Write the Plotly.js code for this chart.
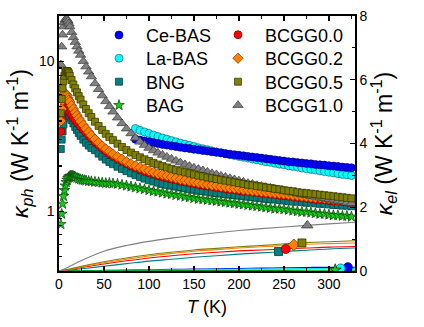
<!DOCTYPE html>
<html><head><meta charset="utf-8">
<script src="https://cdn.plot.ly/plotly-3.0.1.min.js"></script>
<style>html,body{margin:0;padding:0;background:#fff}#chart{width:424px;height:327px}</style>
</head><body><div id="chart"></div>
<script>
// ---------- data ----------
const names = ["Ce-BAS","La-BAS","BNG","BAG","BCGG0.0","BCGG0.2","BCGG0.5","BCGG1.0"];

// temperatures (K) for the BCGG / BNG phonon series
const T_low = [2,3,4,5,6,7,8,9,10,11,12,14,16,18,20,22,24,27,30,33,36,40,44,48,52,56,60,
  65,70,75,80,85,90,95,100,105,110,115,120,125,130,135,140,145,150,155,160,165,170,175,180,
  185,190,195,200,205,210,215,220,225,230,235,240,245,250,255,260,265,270,275,280,285,290,
  295,300,305,310,315,320,325];
// temperatures for BAG
const T_bag = [2,3,4,5,6,7,8,9,10,11,12,13,14,15,16,17,18,20,22,24,26,28,30,33,36,40,44,48,52,56,60,
  65,70,75,80,85,90,95,100,105,110,115,120,125,130,135,140,145,150,155,160,165,170,175,180,
  185,190,195,200,205,210,215,220,225,230,235,240,245,250,255,260,265,270,275,280,285,290,
  295,300,305,310,315,320,325];
// temperatures for Ce-BAS / La-BAS
const T_bas = [85,90,95,100,105,110,115,120,125,130,135,140,145,150,155,160,165,170,175,180,
  185,190,195,200,205,210,215,220,225,230,235,240,245,250,255,260,265,270,275,280,285,290,
  295,300,305,310,315,320,325];

// kappa_ph (W K^-1 m^-1), left log axis
const kph_CeBAS = [3.02,2.98,2.94,2.90,2.86,2.83,2.79,2.76,2.73,2.70,2.67,2.64,2.62,2.59,2.57,2.54,2.52,2.49,2.47,2.45,
  2.42,2.40,2.38,2.36,2.34,2.32,2.30,2.28,2.26,2.24,2.22,2.20,2.18,2.16,2.14,2.13,2.11,2.10,2.08,2.07,2.05,2.04,
  2.03,2.01,2.00,1.99,1.97,1.96,1.95];
const kph_LaBAS = [3.56,3.46,3.38,3.30,3.22,3.15,3.08,3.02,2.96,2.90,2.85,2.80,2.75,2.70,2.65,2.61,2.57,2.53,2.49,2.45,
  2.42,2.38,2.35,2.32,2.29,2.26,2.23,2.20,2.17,2.14,2.12,2.09,2.06,2.04,2.01,1.99,1.97,1.94,1.92,1.90,1.88,1.86,
  1.84,1.82,1.80,1.78,1.76,1.75,1.73];
const kph_BNG = [2.6,3.0,3.4,3.8,4.2,4.5,4.6,4.6,4.5,4.4,4.3,4.05,3.85,3.65,3.48,3.32,3.18,3.0,2.86,2.74,2.64,
  2.55,2.42,2.31,2.21,2.13,2.06,1.98,1.91,1.85,1.79,1.74,1.69,1.65,1.61,1.58,1.55,1.52,1.50,1.48,1.46,1.44,1.42,
  1.40,1.39,1.37,1.36,1.35,1.33,1.32,1.31,1.30,1.29,1.28,1.27,1.26,1.25,1.24,1.23,1.22,1.21,1.20,1.20,1.19,1.18,
  1.17,1.16,1.16,1.15,1.14,1.14,1.13,1.12,1.12,1.11,1.10,1.10,1.09,1.09,1.08];
const kph_BAG = [0.82,0.96,1.12,1.26,1.38,1.48,1.56,1.62,1.66,1.69,1.71,1.72,1.72,1.72,1.71,1.70,1.69,
  1.67,1.65,1.63,1.62,1.61,1.60,1.59,1.58,1.57,1.56,1.55,1.54,1.54,1.53,
  1.52,1.50,1.48,1.46,1.44,1.42,1.40,1.38,1.36,1.35,1.33,1.31,1.30,1.28,1.27,1.25,1.24,1.22,
  1.21,1.20,1.19,1.18,1.17,1.16,1.15,1.14,1.13,1.12,1.11,1.10,1.09,1.08,1.07,1.06,1.05,1.04,1.04,1.03,
  1.02,1.01,1.00,0.99,0.99,0.98,0.97,0.96,0.96,0.95,0.94,0.94,0.93,0.93,0.92];
const kph_BCGG00 = [3.4,4.1,4.6,4.9,5.0,5.0,4.95,4.85,4.75,4.65,4.55,4.35,4.2,4.05,3.9,3.78,3.66,3.5,3.35,3.2,3.07,
  2.9,2.76,2.63,2.52,2.42,2.34,2.24,2.16,2.08,2.01,1.95,1.90,1.85,1.81,1.77,1.73,1.70,1.67,1.64,1.62,1.59,1.57,
  1.55,1.53,1.51,1.49,1.47,1.46,1.44,1.43,1.41,1.40,1.39,1.37,1.36,1.35,1.34,1.33,1.32,1.31,1.30,1.29,1.28,1.27,
  1.26,1.25,1.24,1.23,1.22,1.21,1.20,1.20,1.19,1.18,1.17,1.17,1.16,1.15,1.14];
const kph_BCGG02 = [4.0,4.8,5.5,5.9,6.1,6.1,6.0,5.9,5.7,5.5,5.35,5.05,4.8,4.55,4.35,4.15,3.98,3.75,3.55,3.37,3.2,
  3.02,2.86,2.72,2.60,2.50,2.41,2.31,2.22,2.14,2.07,2.01,1.96,1.91,1.86,1.82,1.78,1.75,1.72,1.69,1.66,1.63,1.61,
  1.59,1.57,1.55,1.53,1.51,1.49,1.48,1.46,1.45,1.43,1.42,1.41,1.39,1.38,1.37,1.36,1.35,1.34,1.33,1.32,1.31,1.30,
  1.29,1.28,1.27,1.26,1.25,1.24,1.23,1.23,1.22,1.21,1.20,1.19,1.19,1.18,1.17];
const kph_BCGG05 = [4.5,5.6,6.6,7.4,8.0,8.4,8.6,8.6,8.5,8.3,8.0,7.5,7.0,6.6,6.2,5.85,5.55,5.15,4.8,4.5,4.25,
  3.95,3.70,3.48,3.28,3.12,2.98,2.82,2.68,2.56,2.46,2.37,2.29,2.22,2.16,2.10,2.05,2.00,1.96,1.92,1.88,1.85,1.82,
  1.79,1.76,1.73,1.71,1.68,1.66,1.64,1.62,1.60,1.58,1.56,1.54,1.52,1.50,1.49,1.47,1.46,1.44,1.43,1.41,1.40,1.38,
  1.37,1.36,1.34,1.33,1.32,1.31,1.30,1.29,1.28,1.27,1.26,1.25,1.24,1.23,1.22];
const kph_BCGG10 = [9.5,12.5,15,17,18.2,18.9,19.2,19.0,18.5,17.8,17.0,15.6,14.4,13.4,12.5,11.7,11.0,10.0,9.2,8.5,7.9,
  7.1,6.5,5.9,5.4,5.0,4.6,4.2,3.85,3.55,3.3,3.08,2.9,2.76,2.64,2.54,2.45,2.37,2.30,2.23,2.17,2.11,2.05,
  2.00,1.95,1.91,1.87,1.83,1.79,1.76,1.72,1.69,1.66,1.63,1.60,1.57,1.54,1.52,1.49,1.47,1.45,1.43,1.41,1.39,1.37,
  1.35,1.33,1.31,1.29,1.28,1.26,1.25,1.23,1.22,1.20,1.19,1.17,1.16,1.14,1.13];

// kappa_el (W K^-1 m^-1), right linear axis
const T_el = [0,10,25,50,75,100,125,150,175,200,225,250,275,300,329];
const kel_CeBAS  = [0,0.004,0.01,0.02,0.03,0.04,0.05,0.06,0.07,0.08,0.09,0.10,0.11,0.115,0.12];
const kel_LaBAS  = [0,0.003,0.008,0.015,0.022,0.03,0.037,0.044,0.05,0.056,0.062,0.068,0.073,0.078,0.083];
const kel_BNG    = [0,0.02,0.07,0.15,0.23,0.31,0.37,0.43,0.48,0.53,0.57,0.61,0.65,0.69,0.72];
const kel_BAG    = [0,0.001,0.003,0.005,0.007,0.009,0.011,0.013,0.015,0.017,0.019,0.021,0.023,0.025,0.027];
const kel_BCGG00 = [0,0.035,0.11,0.22,0.32,0.41,0.48,0.54,0.59,0.63,0.66,0.69,0.72,0.75,0.77];
const kel_BCGG02 = [0,0.04,0.13,0.26,0.37,0.47,0.55,0.62,0.67,0.72,0.76,0.80,0.84,0.86,0.88];
const kel_BCGG05 = [0,0.05,0.15,0.29,0.41,0.51,0.59,0.66,0.71,0.76,0.80,0.85,0.89,0.92,0.95];
const kel_BCGG10 = [0,0.12,0.33,0.62,0.80,0.93,1.03,1.12,1.20,1.27,1.33,1.38,1.43,1.48,1.53];
// single symbol placed on each kappa_el curve
const elMarkT = [321,313,244,307,252,261,270,276];
const elMarkV = [0.12,0.08,0.61,0.03,0.69,0.82,0.88,1.43];

// ---------- styles ----------
const sty = {
  "Ce-BAS":  {sym:"circle",      fill:"#0000FF", edge:"#00007A", size:8, line:"#0000FF"},
  "La-BAS":  {sym:"circle",      fill:"#00FFFF", edge:"#2B5E7A", size:8, line:"#00E5E5"},
  "BNG":     {sym:"square",      fill:"#008080", edge:"#003838", size:7, line:"#008080"},
  "BAG":     {sym:"star",        fill:"#14CC14", edge:"#0A400A", size:8, line:"#009900"},
  "BCGG0.0": {sym:"circle",      fill:"#FF0000", edge:"#800000", size:8, line:"#FF0000"},
  "BCGG0.2": {sym:"diamond",     fill:"#FF8000", edge:"#7A3D00", size:8, line:"#FF8000"},
  "BCGG0.5": {sym:"square",      fill:"#808000", edge:"#303000", size:7, line:"#808000"},
  "BCGG1.0": {sym:"triangle-up", fill:"#808080", edge:"#3A3A3A", size:9, line:"#808080"}
};
const phT = {"Ce-BAS":T_bas,"La-BAS":T_bas,"BNG":T_low,"BAG":T_bag,"BCGG0.0":T_low,"BCGG0.2":T_low,"BCGG0.5":T_low,"BCGG1.0":T_low};
const phV = {"Ce-BAS":kph_CeBAS,"La-BAS":kph_LaBAS,"BNG":kph_BNG,"BAG":kph_BAG,"BCGG0.0":kph_BCGG00,"BCGG0.2":kph_BCGG02,"BCGG0.5":kph_BCGG05,"BCGG1.0":kph_BCGG10};
const elV = {"Ce-BAS":kel_CeBAS,"La-BAS":kel_LaBAS,"BNG":kel_BNG,"BAG":kel_BAG,"BCGG0.0":kel_BCGG00,"BCGG0.2":kel_BCGG02,"BCGG0.5":kel_BCGG05,"BCGG1.0":kel_BCGG10};

const FONT = "Arial, 'Liberation Sans', sans-serif";
const traces = [];
// kappa_el lines with one symbol each (right axis)
names.forEach((n, i) => {
  const s = sty[n];
  traces.push({x:T_el, y:elV[n], yaxis:"y2", mode:"lines", line:{color:s.line, width:1.1, shape:"spline"},
    showlegend:false, hoverinfo:"skip"});
});
names.forEach((n, i) => {
  const s = sty[n];
  traces.push({x:[elMarkT[i]], y:[elMarkV[i]], yaxis:"y2", mode:"markers",
    marker:{symbol:s.sym, color:s.fill, size:s.size+1, line:{color:s.edge, width:0.8}}, showlegend:false});
});
// kappa_ph symbols (left log axis), drawn in this order
const drawOrder = ["La-BAS","Ce-BAS","BNG","BAG","BCGG0.0","BCGG0.2","BCGG1.0","BCGG0.5"];
const legendRow = {"Ce-BAS":0,"La-BAS":1,"BNG":2,"BAG":3,"BCGG0.0":4,"BCGG0.2":5,"BCGG0.5":6,"BCGG1.0":7};
drawOrder.forEach(n => {
  const s = sty[n];
  const k = legendRow[n];
  traces.push({x:phT[n], y:phV[n], name:n, mode:"markers", type:"scatter",
    legend: k === 0 ? "legend" : "legend" + (k + 1),
    marker:{symbol:s.sym, color:s.fill, size:s.size, line:{color:s.edge, width:0.7}}});
});

// plot frame in pixels: x 59..355, y 16..271
const PL = 59, PW = 296, PB = 271, PH = 255;
const rowsY = [35, 58.5, 82, 105.5];
const symX = [119, 238], txtX = [146, 264];
const layout = {
  width:424, height:327, margin:{l:59, r:69, t:16, b:56},
  paper_bgcolor:"#fff", plot_bgcolor:"#fff",
  font:{family:FONT, size:14, color:"#000"},
  xaxis:{range:[0,329], dtick:50, tick0:0, ticks:"inside", ticklen:5, tickwidth:1.3, tickcolor:"#000",
    minor:{dtick:25, tick0:0, ticks:"inside", ticklen:3, tickwidth:1.2, tickcolor:"#000"},
    showline:true, linecolor:"#000", linewidth:1.6, mirror:"ticks", showgrid:false, zeroline:false,
    tickfont:{size:14},
    title:{text:"<i>T</i> (K)", font:{size:18}, standoff:9}},
  yaxis:{type:"log", range:[Math.log10(0.4), Math.log10(20)], tickvals:[1,10], ticktext:["1","10"],
    ticks:"inside", ticklen:5, tickwidth:1.3, tickcolor:"#000",
    minor:{tickvals:[0.4,0.5,0.6,0.7,0.8,0.9,2,3,4,5,6,7,8,9,20], ticks:"inside", ticklen:3, tickwidth:1.2, tickcolor:"#000"},
    showline:true, linecolor:"#000", linewidth:1.6, showgrid:false, zeroline:false, tickfont:{size:14},
    title:{text:"<i>κ</i><sub><i>ph</i></sub> (W K<sup>-1</sup> m<sup>-1</sup>)", font:{size:23}, standoff:4}},
  yaxis2:{overlaying:"y", side:"right", range:[0,8], dtick:2, tick0:0, ticks:"inside", ticklen:5, tickwidth:1.3, tickcolor:"#000",
    minor:{dtick:1, tick0:0, ticks:"inside", ticklen:3, tickwidth:1.2, tickcolor:"#000"},
    showline:true, linecolor:"#000", linewidth:1.6, showgrid:false, zeroline:false, tickfont:{size:14},
    title:{text:"<i>κ</i><sub><i>el</i></sub> (W K<sup>-1</sup> m<sup>-1</sup>)", font:{size:23}, standoff:4}},
  showlegend:true
};
const legendKeys = [];
for (let k = 0; k < 8; k++) {
  const key = k === 0 ? "legend" : "legend" + (k + 1);
  legendKeys.push(key);
  const col = k < 4 ? 0 : 1;
  const row = k % 4;
  layout[key] = {x:(symX[col] - 27 - PL) / PW, xanchor:"left", y:(PB - rowsY[row]) / PH, yanchor:"middle",
    bgcolor:"rgba(0,0,0,0)", borderwidth:0, itemwidth:44, font:{family:FONT, size:18, color:"#000"}};
}
Plotly.newPlot("chart", traces, layout, {displayModeBar:false, staticPlot:true}).then(gd => {
  // fine-align each legend entry (symbol centre / text start) to the reference positions
  const upd = {};
  legendKeys.forEach((key, k) => {
    const g = gd.querySelector("g." + key);
    if (!g) return;
    const txt = g.querySelector(".legendtext");
    const sym = g.querySelector(".legendpoints path");
    if (!txt || !sym) return;
    const tb = txt.getBoundingClientRect(), sb = sym.getBoundingClientRect();
    const col = k < 4 ? 0 : 1, row = k % 4;
    const sc = (sb.left + sb.right) / 2, sy = (sb.top + sb.bottom) / 2;
    const dx = ((txtX[col] - tb.left) + (symX[col] - sc)) / 2;
    const dy = rowsY[row] - sy;
    upd[key + ".x"] = layout[key].x + dx / PW;
    upd[key + ".y"] = layout[key].y - dy / PH;
  });
  return Plotly.relayout(gd, upd);
});
</script></body></html>
